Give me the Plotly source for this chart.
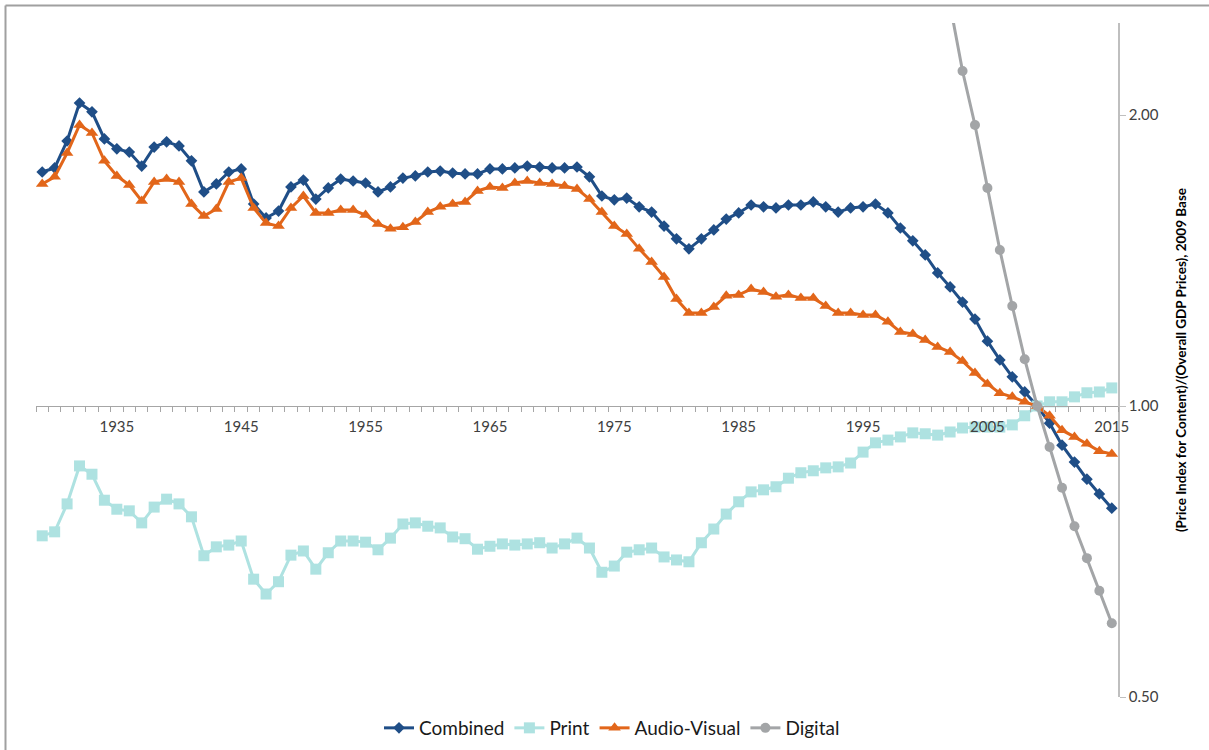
import math
import plotly.graph_objects as go

years = list(range(1929, 2016))

combined = [
    1.746, 1.763, 1.880, 2.058, 2.015, 1.889, 1.845, 1.831, 1.771, 1.853,
    1.876, 1.858, 1.793, 1.665, 1.697, 1.746, 1.759, 1.618, 1.565, 1.591,
    1.685, 1.713, 1.637, 1.681, 1.717, 1.709, 1.701, 1.665, 1.685, 1.721,
    1.730, 1.746, 1.750, 1.742, 1.738, 1.738, 1.759, 1.759, 1.763, 1.771,
    1.767, 1.763, 1.763, 1.767, 1.726, 1.649, 1.634, 1.641, 1.607, 1.587,
    1.535, 1.489, 1.454, 1.489, 1.521, 1.561, 1.584, 1.614, 1.607, 1.603,
    1.614, 1.614, 1.626, 1.607, 1.587, 1.603, 1.607, 1.618, 1.584, 1.528,
    1.482, 1.433, 1.373, 1.328, 1.281, 1.230, 1.167, 1.116, 1.072, 1.034,
    1.000, 0.960, 0.911, 0.875, 0.840, 0.811, 0.784,
]

print_idx = [
    0.734, 0.741, 0.792, 0.867, 0.850, 0.799, 0.782, 0.779, 0.757, 0.786,
    0.801, 0.792, 0.768, 0.700, 0.715, 0.718, 0.725, 0.662, 0.639, 0.658,
    0.701, 0.708, 0.678, 0.705, 0.725, 0.725, 0.723, 0.710, 0.730, 0.755,
    0.757, 0.751, 0.748, 0.732, 0.729, 0.711, 0.716, 0.720, 0.718, 0.720,
    0.722, 0.713, 0.720, 0.730, 0.713, 0.673, 0.683, 0.706, 0.710, 0.713,
    0.698, 0.693, 0.690, 0.722, 0.746, 0.773, 0.796, 0.815, 0.819, 0.825,
    0.842, 0.853, 0.857, 0.863, 0.865, 0.873, 0.896, 0.916, 0.922, 0.929,
    0.938, 0.936, 0.933, 0.940, 0.949, 0.951, 0.951, 0.951, 0.956, 0.977,
    1.000, 1.010, 1.010, 1.022, 1.032, 1.034, 1.044,
]

audio_visual = [
    1.697, 1.726, 1.827, 1.953, 1.916, 1.793, 1.730, 1.693, 1.630, 1.705,
    1.717, 1.705, 1.618, 1.572, 1.599, 1.705, 1.721, 1.603, 1.546, 1.535,
    1.603, 1.649, 1.584, 1.584, 1.595, 1.595, 1.576, 1.543, 1.525, 1.531,
    1.550, 1.587, 1.607, 1.618, 1.626, 1.669, 1.685, 1.681, 1.701, 1.709,
    1.701, 1.697, 1.689, 1.677, 1.637, 1.587, 1.535, 1.506, 1.454, 1.409,
    1.360, 1.290, 1.248, 1.248, 1.266, 1.300, 1.303, 1.321, 1.312, 1.297,
    1.303, 1.293, 1.293, 1.269, 1.248, 1.248, 1.242, 1.242, 1.222, 1.193,
    1.187, 1.170, 1.151, 1.137, 1.113, 1.082, 1.054, 1.031, 1.022, 1.010,
    1.000, 0.977, 0.944, 0.929, 0.914, 0.898, 0.892,
]

digital_years = list(range(2002, 2016))
digital = [
    2.600, 2.221, 1.953, 1.681, 1.450, 1.269, 1.118, 1.000,
    0.907, 0.823, 0.751, 0.696, 0.644, 0.596,
]

x_tick_years = list(range(1935, 2016, 10))
y_tick_vals = [0.5, 1.0, 2.0]
y_tick_text = ["0.50", "1.00", "2.00"]

FONT = "Lato, 'Open Sans', sans-serif"

W, H = 1209, 750
L, R, T, B = 36, 91, 23, 53
pw, ph = W - L - R, H - T - B

fig = go.Figure()
fig.add_trace(go.Scatter(
    x=years, y=combined, name="Combined", mode="lines+markers",
    line=dict(color="#1F4E87", width=3),
    marker=dict(symbol="diamond", size=9, color="#1F4E87"),
))
fig.add_trace(go.Scatter(
    x=years, y=print_idx, name="Print", mode="lines+markers",
    line=dict(color="#AEE2E1", width=3),
    marker=dict(symbol="square", size=11, color="#AEE2E1"),
))
fig.add_trace(go.Scatter(
    x=years, y=audio_visual, name="Audio-Visual", mode="lines+markers",
    line=dict(color="#E2661A", width=3),
    marker=dict(symbol="triangle-up", size=11, color="#E2661A"),
))
fig.add_trace(go.Scatter(
    x=digital_years, y=digital, name="Digital", mode="lines+markers",
    line=dict(color="#A3A5A7", width=3),
    marker=dict(symbol="circle", size=10, color="#A3A5A7"),
))

ymin, ymax = 0.5, 2.49
pos_one = (0 - math.log10(ymin)) / (math.log10(ymax) - math.log10(ymin))

fig.update_layout(
    width=W, height=H,
    margin=dict(l=L, r=R, t=T, b=B, autoexpand=False),
    paper_bgcolor="white", plot_bgcolor="white",
    font=dict(family=FONT, size=15, color="#404040"),
    showlegend=True,
    legend=dict(
        orientation="h", x=(612 - L) / pw, xanchor="center",
        y=(H - B - 728) / ph, yanchor="middle",
        font=dict(family=FONT, size=19, color="#1A1A1A"),
        itemwidth=30, tracegroupgap=0,
    ),
    xaxis=dict(
        range=[1928.5, 2015.5],
        anchor="free", position=pos_one,
        showline=True, linecolor="#A6A6A6", linewidth=1.2,
        showgrid=False, zeroline=False,
        tickmode="array", tickvals=x_tick_years,
        ticktext=[str(v) for v in x_tick_years],
        ticks="outside", ticklen=7, tickcolor="rgba(0,0,0,0)",
        tickfont=dict(size=15, color="#404040"),
        minor=dict(ticks="outside", ticklen=5, tickcolor="#A6A6A6",
                   tick0=1928.5, dtick=1, showgrid=False),
    ),
    yaxis=dict(
        type="log",
        range=[math.log10(ymin), math.log10(ymax)],
        side="right", anchor="x",
        showline=True, linecolor="#BFBFBF", linewidth=1.5,
        showgrid=False, zeroline=False,
        tickmode="array", tickvals=y_tick_vals, ticktext=y_tick_text,
        ticks="outside", ticklen=6, tickcolor="#BFBFBF",
        tickfont=dict(size=15, color="#404040"),
        title=dict(
            text="<b>(Price Index for Content)/(Overall GDP Prices), 2009 Base</b>",
            font=dict(size=13.5, color="#000000"), standoff=19,
        ),
    ),
)

# chart-area border (left and top edges visible in the frame)
bx0 = (5.5 - L) / pw
by1 = (H - B - 5.5) / ph
fig.add_shape(type="line", xref="paper", yref="paper",
              x0=bx0, x1=bx0, y0=by1, y1=-0.2,
              line=dict(color="#A0A0A0", width=2))
fig.add_shape(type="line", xref="paper", yref="paper",
              x0=bx0, x1=1.2, y0=by1, y1=by1,
              line=dict(color="#A0A0A0", width=2))

fig.write_html("out.html", config={"displayModeBar": False},
               post_script="document.body.style.margin='0';")
